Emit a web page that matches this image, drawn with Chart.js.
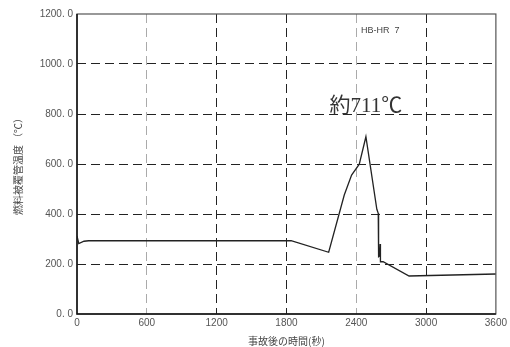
<!DOCTYPE html>
<html>
<head>
<meta charset="utf-8">
<script src="https://cdn.jsdelivr.net/npm/chart.js@4"></script>
<style>
html,body{margin:0;padding:0;background:#fff;}
#wrap{width:510px;height:347px;position:relative;}
</style>
</head>
<body>
<div id="wrap"><canvas id="c" width="510" height="347"></canvas></div>
<script>
// ---- data ----
const timeSec = [0, 15, 60, 100, 1840, 2163, 2297, 2360, 2426, 2483, 2577, 2589, 2592, 2600, 2605, 2608, 2631, 2854, 3600];
const cladTemp = [312, 282, 291, 293, 293, 247, 476, 556, 599, 709, 419, 403, 229, 232, 280, 209, 209, 152, 160];
const xTicks = [0, 600, 1200, 1800, 2400, 3000, 3600];
const xTickLabels = ['0', '600', '1200', '1800', '2400', '3000', '3600'];
const yTicks = [0, 200, 400, 600, 800, 1000, 1200];
const yTickLabels = ['0. 0', '200. 0', '400. 0', '600. 0', '800. 0', '1000. 0', '1200. 0'];
const peakLabel = '約711℃';
const caseLabel = 'HB-HR  7';
const xTitle = '事故後の時間(秒)';
const yTitle = '燃料被覆管温度 （℃）';
const lightXGrid = [600, 2400];

const points = timeSec.map((t, i) => ({x: t, y: cladTemp[i]}));

const frame = {
  id: 'frame',
  afterDraw(chart) {
    const {ctx, chartArea: a, scales} = chart;
    ctx.save();
    ctx.strokeStyle = '#555';
    ctx.lineWidth = 1.2;
    ctx.strokeRect(a.left, a.top, a.right - a.left, a.bottom - a.top);
    ctx.strokeStyle = '#111';
    ctx.lineWidth = 1.5;
    ctx.beginPath();
    ctx.moveTo(a.left, a.top); ctx.lineTo(a.left, a.bottom); ctx.lineTo(a.right, a.bottom);
    ctx.stroke();
    // annotations
    ctx.fillStyle = '#444';
    ctx.font = '9px "Liberation Sans", sans-serif';
    ctx.textBaseline = 'middle';
    ctx.fillText(caseLabel, scales.x.getPixelForValue(2440), scales.y.getPixelForValue(1135));
    ctx.fillStyle = '#333';
    ctx.font = '21px "Liberation Serif", "Noto Sans CJK JP", serif';
    ctx.fillText(peakLabel, scales.x.getPixelForValue(2170), scales.y.getPixelForValue(832));
    ctx.restore();
  }
};

new Chart(document.getElementById('c'), {
  type: 'line',
  data: {
    datasets: [{
      data: points,
      borderColor: '#222',
      borderWidth: 1.3,
      pointRadius: 0,
      tension: 0,
      fill: false
    }]
  },
  options: {
    responsive: false,
    animation: false,
    plugins: {legend: {display: false}, tooltip: {enabled: false}},
    layout: {padding: {left: 0, top: 14, right: 13, bottom: 0}},
    scales: {
      x: {
        type: 'linear', min: 0, max: 3600,
        afterBuildTicks(s) { s.ticks = xTicks.map(v => ({value: v})); },
        afterFit(s) { s.height = 33; },
        ticks: {color: '#555', font: {family: '"Liberation Sans", sans-serif', size: 10}, padding: 3, maxRotation: 0,
          callback: (v) => xTickLabels[xTicks.indexOf(v)]},
        grid: {
          drawTicks: false,
          color: c => (c.tick && lightXGrid.includes(c.tick.value)) ? '#aaa' : '#222',
          lineWidth: c => (c.tick && (c.tick.value === 0 || c.tick.value === 3600)) ? 0 : 1
        },
        border: {display: false, dash: [9, 5]},
        title: {display: true, text: xTitle, color: '#444', font: {family: '"Noto Sans CJK JP", sans-serif', size: 10}, padding: {top: 0, bottom: 0}}
      },
      y: {
        min: 0, max: 1200,
        afterBuildTicks(s) { s.ticks = yTicks.map(v => ({value: v})); },
        afterFit(s) { s.width = 77; },
        ticks: {color: '#555', font: {family: '"Liberation Sans", sans-serif', size: 10}, padding: 4,
          callback: (v) => yTickLabels[yTicks.indexOf(v)]},
        grid: {
          drawTicks: false,
          color: '#222',
          lineWidth: c => (c.tick && (c.tick.value === 0 || c.tick.value === 1200)) ? 0 : 1
        },
        border: {display: false, dash: [9, 5]},
        title: {display: true, text: yTitle, color: '#444', font: {family: '"Noto Sans CJK JP", sans-serif', size: 10}, padding: {top: 12, bottom: 0}}
      }
    }
  },
  plugins: [frame]
});
</script>
</body>
</html>
